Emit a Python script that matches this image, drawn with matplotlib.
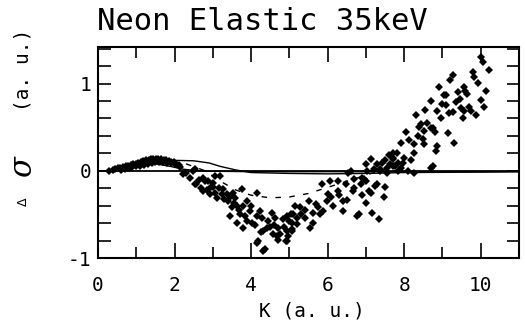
import matplotlib
matplotlib.use("Agg")
import matplotlib.pyplot as plt
from matplotlib.ticker import MultipleLocator

# measured points, low K band (0.3 - 2.1)
k_low = [0.30, 0.38, 0.45, 0.52, 0.58, 0.65, 0.72, 0.78, 0.85, 0.92, 0.98, 1.05, 1.12, 1.18,
         1.25, 1.32, 1.38, 1.45, 1.52, 1.58, 1.65, 1.72, 1.78, 1.85, 1.92, 1.98, 2.05, 2.12,
         0.60, 0.70, 0.80, 0.90, 1.00, 1.10, 1.20, 1.30, 1.40, 1.50, 1.60, 1.70, 1.80, 1.90, 2.00]
ds_low = [0.00, 0.01, 0.02, 0.03, 0.03, 0.04, 0.05, 0.06, 0.07, 0.08, 0.08, 0.09, 0.10, 0.11,
          0.12, 0.12, 0.13, 0.14, 0.14, 0.13, 0.13, 0.12, 0.12, 0.11, 0.10, 0.10, 0.08, 0.07,
          0.01, 0.02, 0.03, 0.04, 0.05, 0.06, 0.07, 0.08, 0.09, 0.10, 0.10, 0.10, 0.09, 0.09, 0.08]

# the dip (2.1 - 5.2)
k_dip = [2.15, 2.22, 2.30, 2.40, 2.49, 2.54, 2.57, 2.54, 2.75, 2.80, 2.88, 3.01, 3.06, 3.19,
         2.75, 2.93, 3.01, 3.11, 3.25, 3.27, 3.38, 3.40, 3.53, 3.59, 3.77, 3.50, 3.64, 3.80,
         3.72, 3.90, 3.98, 3.90, 3.45, 3.64, 3.80, 4.03, 4.16, 4.16, 4.24, 4.29, 4.42, 4.32,
         4.55, 4.63, 4.50, 4.71, 4.76, 4.58, 4.19, 4.37, 4.71, 4.95, 4.95, 5.08, 5.03, 5.16,
         4.95, 5.21, 5.08, 4.97, 4.84, 4.16, 4.32, 4.68, 4.90,
         2.65, 2.70, 2.85, 2.95, 3.05, 3.15, 3.30, 3.45, 3.55, 3.68, 3.85, 4.00, 4.10, 4.25,
         4.45, 4.60, 4.85, 5.00]
ds_dip = [0.04, -0.04, -0.02, -0.08, 0.00, 0.02, -0.15, -0.15, -0.08, -0.12, -0.12, -0.14, -0.06, -0.06,
          -0.23, -0.27, -0.19, -0.31, -0.27, -0.21, -0.27, -0.35, -0.25, -0.31, -0.21, -0.42, -0.40, -0.40,
          -0.50, -0.35, -0.46, -0.58, -0.52, -0.60, -0.66, -0.60, -0.25, -0.52, -0.46, -0.54, -0.66, -0.69,
          -0.48, -0.54, -0.64, -0.66, -0.73, -0.72, -0.81, -0.90, -0.79, -0.81, -0.69, -0.60, -0.50, -0.40,
          -0.52, -0.54, -0.67, -0.75, -0.55, -0.83, -0.92, -0.75, -0.81,
          -0.10, -0.20, -0.22, -0.18, -0.25, -0.20, -0.32, -0.30, -0.37, -0.45, -0.52, -0.40, -0.62, -0.70,
          -0.58, -0.62, -0.65, -0.58]

# recovery (5.1 - 7.9)
k_mid = [5.10, 5.21, 5.08, 5.29, 5.42, 5.50, 5.63, 5.63, 5.55, 5.76, 5.86, 5.89, 5.99, 6.02,
         6.07, 6.15, 6.26, 6.28, 6.39, 6.41, 6.47, 6.52, 6.60, 6.65, 6.68, 6.81, 6.86, 6.91,
         6.99, 7.04, 7.12, 7.17, 7.30, 7.33, 7.38, 7.51, 7.12, 6.99, 7.30, 7.51, 7.64, 7.56,
         7.70, 7.77, 7.83, 6.78, 7.46, 7.25, 6.94, 7.07,
         5.30, 5.40, 5.70, 5.80, 6.10, 6.30, 6.50, 6.70, 6.90, 7.00]
ds_mid = [-0.50, -0.61, -0.69, -0.42, -0.54, -0.35, -0.48, -0.60, -0.66, -0.42, -0.15, -0.46, -0.35, -0.27,
          -0.12, -0.40, -0.12, -0.23, -0.35, -0.46, -0.15, -0.03, 0.00, -0.23, -0.09, -0.50, -0.15, -0.08,
          -0.37, 0.00, -0.25, -0.48, -0.15, -0.55, 0.02, -0.19, 0.14, 0.08, 0.08, 0.12, 0.08, -0.03,
          0.14, 0.06, 0.00, -0.52, -0.30, -0.17, -0.09, -0.23,
          -0.50, -0.45, -0.38, -0.50, -0.30, -0.28, -0.33, -0.20, -0.28, -0.12]

# rise (7.2 - 10.2)
k_high = [9.03, 9.00, 8.87, 8.95, 9.16, 8.30, 8.43, 8.38, 8.51, 8.69, 8.48, 8.51, 8.87, 8.82,
          8.04, 8.12, 7.91, 8.25, 8.25, 8.17, 9.14, 7.72, 7.70, 7.43, 7.56, 7.72, 7.83, 7.91,
          7.98, 7.20, 7.38, 8.09, 8.25, 8.69,
          10.00, 10.05, 10.21, 9.79, 9.82, 9.92, 10.13, 9.27, 9.21, 8.90, 9.55, 9.60, 9.40, 9.08,
          9.35, 10.00, 10.08, 9.48, 9.55, 9.69, 9.74, 9.53, 9.87, 9.27, 9.29, 8.74, 8.74,
          7.60, 7.80, 8.00, 8.35, 8.60, 8.80, 9.10, 9.45, 9.65, 8.55, 8.70]
ds_high = [0.87, 0.77, 0.69, 0.61, 0.66, 0.64, 0.54, 0.50, 0.46, 0.49, 0.37, 0.31, 0.29, 0.23,
           0.44, 0.35, 0.32, 0.31, 0.20, 0.12, 0.43, 0.20, 0.15, 0.09, 0.03, 0.06, 0.09, 0.03,
           0.09, 0.02, 0.00, 0.00, -0.03, 0.03,
           1.31, 1.25, 1.16, 1.13, 1.08, 1.01, 0.92, 1.10, 1.04, 0.96, 0.96, 0.92, 0.90, 0.87,
           0.79, 0.81, 0.73, 0.72, 0.69, 0.73, 0.69, 0.60, 0.64, 0.67, 0.32, 0.49, 0.06,
           0.18, 0.20, 0.15, 0.40, 0.55, 0.45, 0.75, 0.82, 0.88, 0.70, 0.80]

# theory curves
k_a = [0.3, 0.8, 1.2, 1.6, 2.0, 2.5, 2.9, 3.2, 3.6, 4.0, 5.0, 6.0, 7.0, 8.0, 10.0, 11.0]
ds_a = [0.0, 0.05, 0.10, 0.12, 0.12, 0.115, 0.09, 0.05, 0.01, -0.02, -0.03, -0.035, -0.03, -0.02, -0.015, -0.01]
k_b = [0.3, 0.8, 1.2, 1.5, 1.9, 2.2, 2.6, 3.0, 4.0, 11.0]
ds_b = [0.0, 0.04, 0.07, 0.08, 0.05, 0.02, 0.0, -0.005, -0.01, -0.01]
k_c = [2.3, 2.8, 3.2, 3.6, 4.0, 4.5, 5.0, 5.5, 6.0, 6.5, 7.0, 7.5]
ds_c = [0.08, 0.0, -0.12, -0.22, -0.28, -0.31, -0.30, -0.26, -0.19, -0.12, -0.05, 0.02]

mono = "DejaVu Sans Mono"

fig = plt.figure(figsize=(5.25, 3.26), dpi=100)
ax = fig.add_axes([98 / 525, 1 - 258 / 326, 421 / 525, 211 / 326])

ax.axhline(0, color="black", lw=1.3)
ax.plot(k_a, ds_a, color="black", lw=1.0)
ax.plot(k_b, ds_b, color="black", lw=1.0)
ax.plot(k_c, ds_c, color="black", lw=1.0, ls=(0, (4, 6)))

for kk, dd in [(k_low, ds_low), (k_dip, ds_dip), (k_mid, ds_mid), (k_high, ds_high)]:
    ax.plot(kk, dd, "D", color="black", ms=4.2, mew=0)

ax.set_xlim(0, 11)
ax.set_ylim(-1, 1.42)

ax.set_xticks([0, 2, 4, 6, 8, 10])
ax.set_xticklabels(["0", "2", "4", "6", "8", "10"], fontfamily=mono, fontsize=14)
ax.xaxis.set_minor_locator(MultipleLocator(1))
ax.set_yticks([-1, 0, 1])
ax.set_yticklabels(["-1", "0", "1"], fontfamily=mono, fontsize=14)
ax.yaxis.set_minor_locator(MultipleLocator(0.2))

ax.tick_params(axis="x", which="major", direction="in", length=11, width=1.2,
               top=True, pad=13)
ax.tick_params(axis="x", which="minor", direction="in", length=8, width=1.2, top=True)
ax.tick_params(axis="y", which="both", direction="in", length=9, width=1.2,
               right=True, pad=5)

for s in ax.spines.values():
    s.set_linewidth(1.5)

fig.text(97 / 525, 1 - 7 / 326, "Neon Elastic 35keV", fontfamily=mono, fontsize=22,
         ha="left", va="top")
fig.text(312 / 525, 1 - 311 / 326, "K (a. u.)", fontfamily=mono, fontsize=14,
         ha="center", va="center")

fig.text(23 / 525, 1 - 202 / 326, "Δ", fontfamily="DejaVu Sans", fontsize=9,
         rotation=90, ha="center", va="center")
fig.text(23 / 525, 1 - 167 / 326, "σ", fontfamily="DejaVu Serif", fontsize=22,
         style="italic", rotation=90, ha="center", va="center")
fig.text(23 / 525, 1 - 70 / 326, "(a. u.)", fontfamily=mono, fontsize=14,
         rotation=90, ha="center", va="center")

fig.savefig("out.png", dpi=100)
